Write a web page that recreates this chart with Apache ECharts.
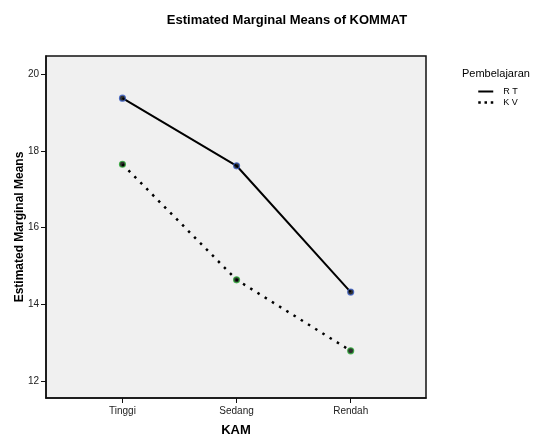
<!DOCTYPE html>
<html>
<head>
<meta charset="utf-8">
<script src="https://cdn.jsdelivr.net/npm/echarts@6/dist/echarts.min.js"></script>
<style>html,body{margin:0;padding:0;background:#fff}#c{width:536px;height:437px}</style>
</head>
<body>
<div id="c"></div>
<script>
const categories = ['Tinggi', 'Sedang', 'Rendah'];
const seriesNames = ['R T', 'K V'];
const rtValues = [19.37, 17.61, 14.32];
const kvValues = [17.65, 14.64, 12.79];
const yTicks = [12, 14, 16, 18, 20];
const xTicks = [0, 1, 2];

const font = 'Liberation Sans, Arial, sans-serif';
const toPts = vals => vals.map((v, i) => [i, v]);

const chart = echarts.init(document.getElementById('c'), null, {renderer: 'canvas'});
chart.setOption({
  animation: false,
  backgroundColor: '#ffffff',
  title: [
    {text: 'Estimated Marginal Means of KOMMAT', left: 282, top: 9, textAlign: 'center',
     textStyle: {fontFamily: font, fontSize: 13, fontWeight: 'bold', color: '#000'}},
    {text: 'Pembelajaran', left: 457, top: 63,
     textStyle: {fontFamily: font, fontSize: 11, fontWeight: 'normal', color: '#000'}}
  ],
  legend: {
    data: [
      {name: seriesNames[0]},
      {name: seriesNames[1], lineStyle: {type: [2.5, 3.75], width: 2.5, cap: 'butt'}}
    ],
    orient: 'vertical',
    left: 472,
    top: 82,
    itemWidth: 15,
    itemHeight: 10,
    itemGap: 2,
    itemStyle: {opacity: 0},
    textStyle: {fontFamily: font, fontSize: 9, color: '#000', padding: [0, 0, 0, 5]}
  },
  grid: {left: 46, right: 110, top: 56, bottom: 39, show: true, outerBoundsMode: 'none',
         containLabel: false,
         backgroundColor: '#f0f0f0', borderColor: '#111', borderWidth: 1.5},
  xAxis: {
    type: 'value', min: -0.67, max: 2.66,
    name: 'KAM', nameLocation: 'middle', nameGap: 26,
    nameTextStyle: {fontFamily: font, fontSize: 13, fontWeight: 'bold', color: '#000'},
    axisLine: {show: true, onZero: false, lineStyle: {color: '#111', width: 1.5}},
    axisTick: {show: true, inside: false, length: 5, customValues: xTicks, lineStyle: {color: '#111'}},
    axisLabel: {customValues: xTicks, formatter: v => categories[Math.round(v)] || '',
                fontFamily: font, fontSize: 10, color: '#222', margin: 8},
    splitLine: {show: false}
  },
  yAxis: {
    type: 'value', min: 11.56, max: 20.47,
    name: 'Estimated Marginal Means', nameLocation: 'middle', nameGap: 20, nameRotate: 90,
    nameMoveOverlap: false,
    nameTextStyle: {fontFamily: font, fontSize: 12, fontWeight: 'bold', color: '#000'},
    axisLine: {show: true, onZero: false, lineStyle: {color: '#111', width: 1.5}},
    axisTick: {show: true, inside: false, length: 5, customValues: yTicks, lineStyle: {color: '#111'}},
    axisLabel: {customValues: yTicks, fontFamily: font, fontSize: 10, color: '#222', margin: 7},
    splitLine: {show: false}
  },
  series: [
    {name: seriesNames[0], type: 'line', data: toPts(rtValues), symbol: 'none',
     lineStyle: {color: '#000', width: 2}, itemStyle: {color: '#000'}},
    {name: seriesNames[1], type: 'line', data: toPts(kvValues), symbol: 'none',
     lineStyle: {color: '#000', width: 2.5, type: [2.5, 6]}, itemStyle: {color: '#000'}},
    {name: 'rtPts', type: 'scatter', data: toPts(rtValues), symbol: 'circle', symbolSize: 6,
     itemStyle: {color: '#000', borderColor: '#3f63c8', borderWidth: 1.2}, z: 5},
    {name: 'kvPts', type: 'scatter', data: toPts(kvValues), symbol: 'circle', symbolSize: 6,
     itemStyle: {color: '#000', borderColor: '#2fae3a', borderWidth: 1.2}, z: 5}
  ]
});
</script>
</body>
</html>
